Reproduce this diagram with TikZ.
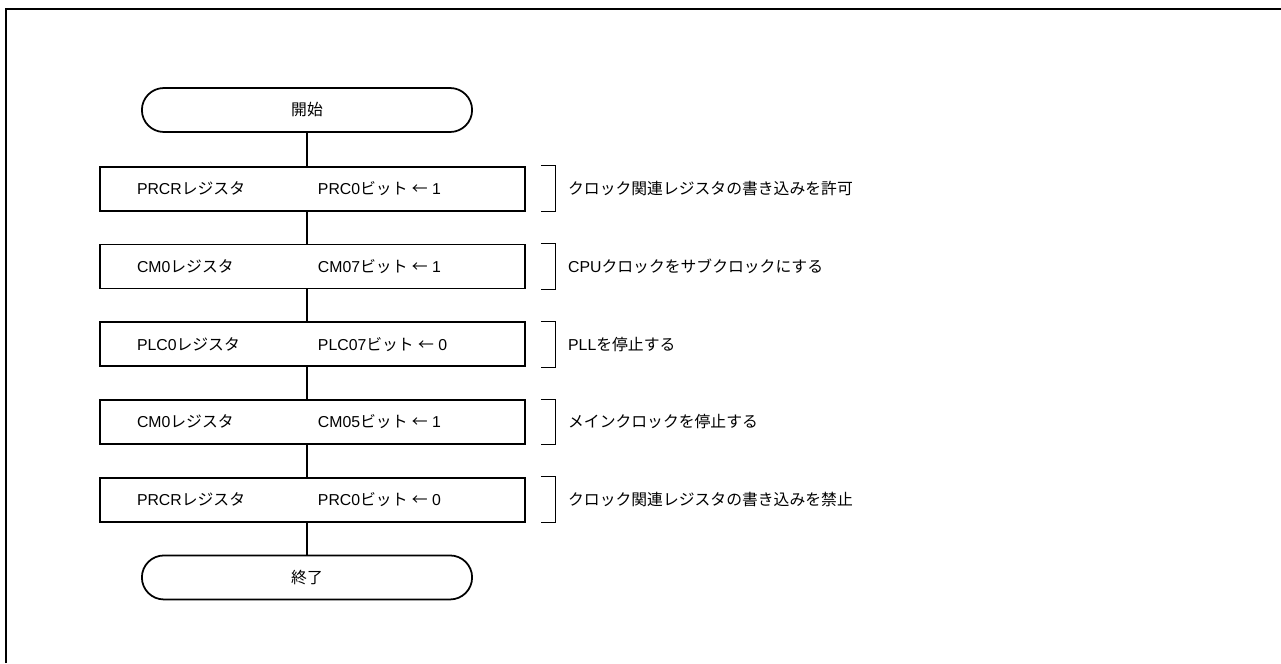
\documentclass[tikz,border=0pt]{standalone}
\usepackage{fontspec}
\setmainfont{Liberation Sans}
\newfontfamily\jpfont{Noto Sans CJK JP}
\usetikzlibrary{shapes.misc, positioning}

\newcommand{\ja}[1]{{\jpfont #1}}
\newcommand{\regline}[2]{\makebox[8.5cm][l]{\hspace{0.74cm}\makebox[3.62cm][l]{#1}#2}}

\begin{document}
\begin{tikzpicture}[x=0.02cm, y=-0.02cm,
        every node/.style={font=\fontsize{9pt}{10.5pt}\selectfont, anchor=center},
        node distance=0.64cm,
        terminal/.style={draw, line width=1pt, rounded rectangle, minimum width=6.84cm, minimum height=0.88cm},
        regbox/.style={draw, line width=1pt, minimum width=8.5cm, minimum height=0.88cm, inner sep=0pt},
        flow/.style={line width=0.8pt},
        brace/.style={line width=0.5pt},
        note/.style={anchor=west, inner sep=0pt}
    ]
    \useasboundingbox (0,0) rectangle (1281,663);

    % Frame
    \draw[line width=1.2pt] (6,663) -- (6,9) -- (1281,9);

    % Flow
    \node[terminal] (start) at (307,110) {\ja{開始}};
    \node[regbox, below=0.66cm of start, xshift=0.11cm] (prcr1) {\regline{PRCR\ja{レジスタ}}{PRC0\ja{ビット} \ja{←} 1}};
    \node[regbox, below=of prcr1] (cm07) {\regline{CM0\ja{レジスタ}}{CM07\ja{ビット} \ja{←} 1}};
    \node[regbox, below=of cm07] (plc07) {\regline{PLC0\ja{レジスタ}}{PLC07\ja{ビット} \ja{←} 0}};
    \node[regbox, below=of plc07] (cm05) {\regline{CM0\ja{レジスタ}}{CM05\ja{ビット} \ja{←} 1}};
    \node[regbox, below=of cm05] (prcr0) {\regline{PRCR\ja{レジスタ}}{PRC0\ja{ビット} \ja{←} 0}};
    \node[terminal, below=of prcr0, xshift=-0.11cm] (stop) {\ja{終了}};

    % Connectors
    \draw[flow] (start.south) -- (start |- prcr1.north);
    \foreach \a/\b in {prcr1/cm07, cm07/plc07, plc07/cm05, cm05/prcr0, prcr0/stop}
        \draw[flow] (start |- \a.south) -- (start |- \b.north);

    % Notes
    \foreach \b/\t in {prcr1/{\ja{クロック関連レジスタの書き込みを許可}},
                       cm07/{CPU\ja{クロックをサブクロックにする}},
                       plc07/{PLL\ja{を停止する}},
                       cm05/{\ja{メインクロックを停止する}},
                       prcr0/{\ja{クロック関連レジスタの書き込みを禁止}}} {
        \draw[brace] ([xshift=0.3cm]\b.north east) -- ([xshift=0.6cm]\b.north east)
            -- ([xshift=0.6cm]\b.south east) -- ([xshift=0.3cm]\b.south east);
        \node[note] (\b-note) at ([xshift=0.84cm]\b.east) {\t};
    }

\end{tikzpicture}
\end{document}
